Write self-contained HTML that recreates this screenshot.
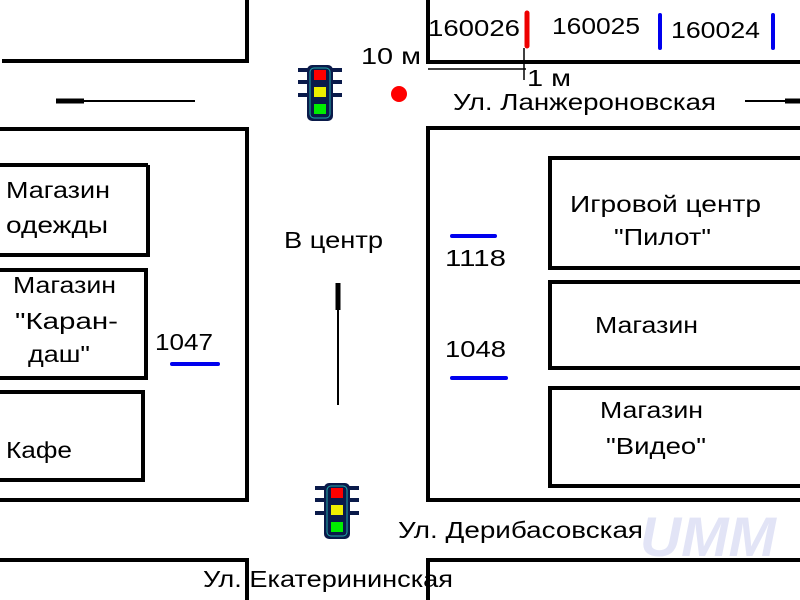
<!DOCTYPE html>
<html><head><meta charset="utf-8"><style>
html,body{margin:0;padding:0;background:#fff;}
svg{display:block;}
text{font-family:"Liberation Sans",sans-serif;font-size:23px;fill:#000;}
</style></head><body>
<svg width="800" height="600" viewBox="0 0 800 600" xmlns="http://www.w3.org/2000/svg">
<defs>
<g id="tl">
 <path d="M0,5 h10 M0,17 h10 M0,30 h10 M34,5 h10 M34,17 h10 M34,30 h10" stroke="#0a1a4a" stroke-width="4"/>
 <rect x="9" y="0" width="26" height="56" rx="5" fill="#0a1a4a"/>
 <rect x="12" y="3" width="20" height="50" rx="4" fill="none" stroke="#2aa" stroke-width="1"/>
 <rect x="16" y="5" width="12" height="10" fill="#f00"/>
 <rect x="16" y="22" width="12" height="10" fill="#ee0"/>
 <rect x="16" y="39" width="12" height="10" fill="#0e0"/>
</g>
</defs>
<g stroke="#000" stroke-width="4" fill="none">
 <path d="M247,0 V61 H2"/>
 <path d="M428,0 V62 H800"/>
 <path d="M0,129 H247 V500 H0"/>
 <path d="M800,128 H428 V500 H800"/>
 <path d="M0,560 H247 V600"/>
 <path d="M800,560 H428 V600"/>
 <path d="M148,165 V255 H0 M0,165 H148"/>
 <path d="M0,270 H146 V378 H0"/>
 <path d="M0,392 H143 V480 H0"/>
 <path d="M800,158 H550 V268 H800"/>
 <path d="M800,282 H550 V368 H800"/>
 <path d="M800,388 H550 V486 H800"/>
</g>
<g stroke="#000">
 <line x1="56" y1="101" x2="84" y2="101" stroke-width="5"/>
 <line x1="84" y1="101" x2="195" y2="101" stroke-width="2"/>
 <line x1="745" y1="101" x2="785" y2="101" stroke-width="2"/>
 <line x1="785" y1="101" x2="800" y2="101" stroke-width="5"/>
 <line x1="338" y1="283" x2="338" y2="310" stroke-width="5"/>
 <line x1="338" y1="310" x2="338" y2="405" stroke-width="2"/>
 <line x1="428" y1="69" x2="526" y2="69" stroke-width="1.5"/>
 <line x1="524" y1="48" x2="524" y2="80" stroke-width="1.5"/>
</g>
<g stroke-linecap="round">
 <line x1="527" y1="13" x2="527" y2="46" stroke="#e00" stroke-width="5"/>
 <line x1="660" y1="15" x2="660" y2="48" stroke="#00e" stroke-width="4"/>
 <line x1="773" y1="15" x2="773" y2="48" stroke="#00e" stroke-width="4"/>
 <line x1="452" y1="236" x2="495" y2="236" stroke="#00e" stroke-width="4"/>
 <line x1="172" y1="364" x2="218" y2="364" stroke="#00e" stroke-width="4"/>
 <line x1="452" y1="378" x2="506" y2="378" stroke="#00e" stroke-width="4"/>
</g>
<circle cx="399" cy="94" r="8" fill="#f00"/>
<use href="#tl" x="298" y="65"/>
<use href="#tl" x="315" y="483"/>
<text x="640" y="556" style="font-size:56px;font-style:italic;font-weight:bold;fill:#e2e4f6" textLength="136" lengthAdjust="spacingAndGlyphs">UMM</text>
<text x="428" y="36" textLength="92" lengthAdjust="spacingAndGlyphs">160026</text>
<text x="552" y="34" textLength="88" lengthAdjust="spacingAndGlyphs">160025</text>
<text x="671" y="38" textLength="89" lengthAdjust="spacingAndGlyphs">160024</text>
<text x="361" y="64" textLength="60" lengthAdjust="spacingAndGlyphs">10 м</text>
<text x="527" y="86" textLength="44" lengthAdjust="spacingAndGlyphs">1 м</text>
<text x="453" y="110" textLength="263" lengthAdjust="spacingAndGlyphs">Ул. Ланжероновская</text>
<text x="6" y="198" textLength="104" lengthAdjust="spacingAndGlyphs">Магазин</text>
<text x="6" y="233" textLength="102" lengthAdjust="spacingAndGlyphs">одежды</text>
<text x="13" y="293" textLength="103" lengthAdjust="spacingAndGlyphs">Магазин</text>
<text x="15" y="329" textLength="103" lengthAdjust="spacingAndGlyphs">"Каран-</text>
<text x="28" y="362" textLength="62" lengthAdjust="spacingAndGlyphs">даш"</text>
<text x="155" y="350" textLength="58" lengthAdjust="spacingAndGlyphs">1047</text>
<text x="6" y="458" textLength="66" lengthAdjust="spacingAndGlyphs">Кафе</text>
<text x="284" y="248" textLength="99" lengthAdjust="spacingAndGlyphs">В центр</text>
<text x="445" y="266" textLength="61" lengthAdjust="spacingAndGlyphs">1118</text>
<text x="445" y="357" textLength="61" lengthAdjust="spacingAndGlyphs">1048</text>
<text x="570" y="212" textLength="191" lengthAdjust="spacingAndGlyphs">Игровой центр</text>
<text x="614" y="245" textLength="97" lengthAdjust="spacingAndGlyphs">"Пилот"</text>
<text x="595" y="333" textLength="103" lengthAdjust="spacingAndGlyphs">Магазин</text>
<text x="600" y="418" textLength="103" lengthAdjust="spacingAndGlyphs">Магазин</text>
<text x="606" y="454" textLength="100" lengthAdjust="spacingAndGlyphs">"Видео"</text>
<text x="398" y="538" textLength="245" lengthAdjust="spacingAndGlyphs">Ул. Дерибасовская</text>
<text x="203" y="587" textLength="250" lengthAdjust="spacingAndGlyphs">Ул. Екатерининская</text>
</svg>
</body></html>
